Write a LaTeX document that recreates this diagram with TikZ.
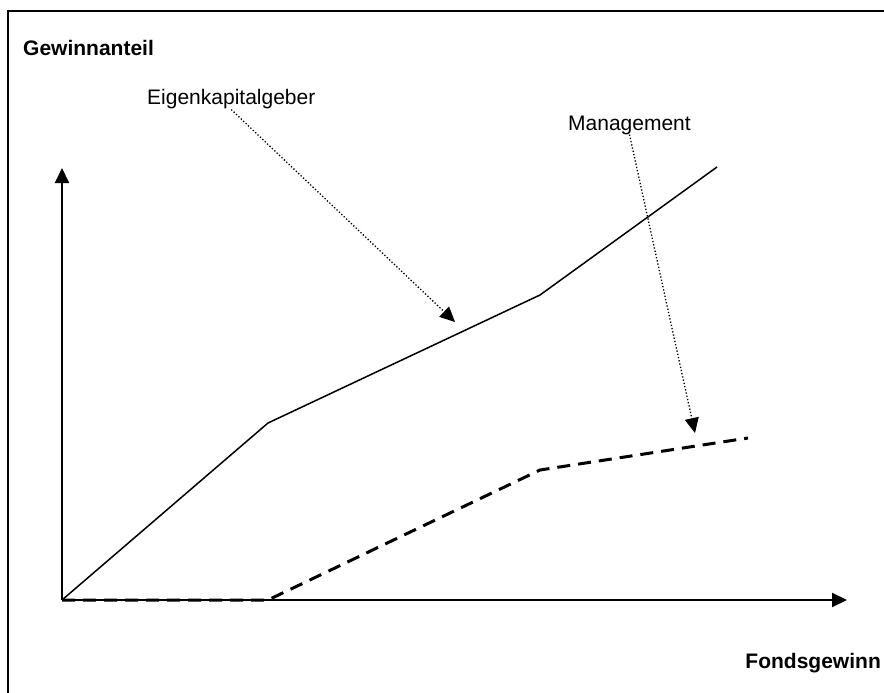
\documentclass[tikz,border=0pt]{standalone}
\usepackage{fontspec}
\setmainfont{Liberation Sans}
\usetikzlibrary{arrows.meta}

\begin{document}
\begin{tikzpicture}[x=1pt,y=-1pt,>={Triangle[length=15pt,width=14pt]},
    every node/.style={font=\fontsize{21}{25}\selectfont,inner sep=0pt},
    achse/.style={->,line width=2pt},
    zeiger/.style={->,dotted,line width=1.3pt},
    kurve/.style={line width=1.5pt}]

  \useasboundingbox (0,0) rectangle (884,693);
  \draw[line width=2pt] (8,693) -- (8,11) -- (884,11);

  % axes
  \coordinate (o) at (62,600);
  \coordinate (ytip) at (62,168);
  \coordinate (xtip) at (847,600);
  \draw[achse] (o) -- (ytip);
  \draw[achse] (o) -- (xtip);

  \node[anchor=base west,font=\fontsize{21}{25}\selectfont\bfseries] (ga) at (23,56) {Gewinnanteil};
  \node[anchor=base east,font=\fontsize{21}{25}\selectfont\bfseries] (fg) at (881,668) {Fondsgewinn};

  % Eigenkapitalgeber
  \coordinate (e1) at (268,423);
  \coordinate (e2) at (540,295);
  \coordinate (e3) at (717,167);
  \draw[kurve] (o) -- (e1) -- (e2) -- (e3);

  % Management
  \coordinate (m1) at (268,600);
  \coordinate (m2) at (540,470);
  \coordinate (m3) at (748,438);
  \draw[line width=3pt,dash pattern=on 13pt off 8pt] (o) -- (m1) -- (m2) -- (m3);

  \node[anchor=base west] (ek) at (147,105) {Eigenkapitalgeber};
  \node[anchor=base west] (mg) at (568,130) {Management};
  \coordinate (ekp) at (455,322);
  \coordinate (mgp) at (695,433);
  \draw[zeiger] (ek.south) -- (ekp);
  \draw[zeiger] (mg.south) -- (mgp);

\end{tikzpicture}
\end{document}
